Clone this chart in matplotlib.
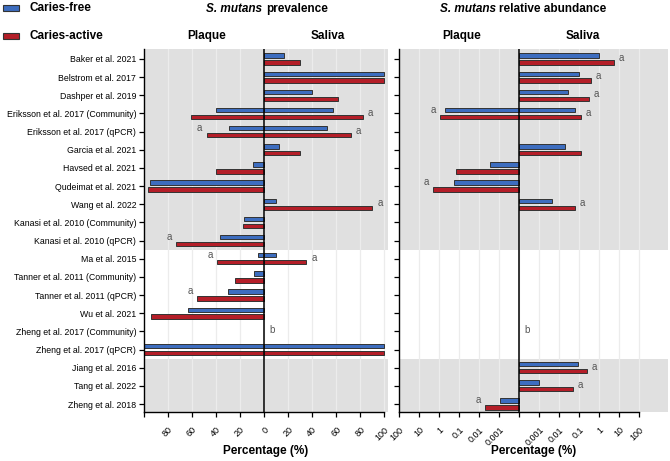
import numpy as np
import matplotlib.pyplot as plt

plt.rcParams['font.family'] = ['Liberation Sans', 'DejaVu Sans']

nan = np.nan
studies = ["Baker et al. 2021", "Belstrom et al. 2017", "Dashper et al. 2019",
           "Eriksson et al. 2017 (Community)", "Eriksson et al. 2017 (qPCR)",
           "Garcia et al. 2021", "Havsed et al. 2021", "Qudeimat et al. 2021",
           "Wang et al. 2022", "Kanasi et al. 2010 (Community)",
           "Kanasi et al. 2010 (qPCR)", "Ma et al. 2015",
           "Tanner et al. 2011 (Community)", "Tanner et al. 2011 (qPCR)",
           "Wu et al. 2021", "Zheng et al. 2017 (Community)",
           "Zheng et al. 2017 (qPCR)", "Jiang et al. 2016", "Tang et al. 2022",
           "Zheng et al. 2018"]

# S. mutans prevalence (%)
prev_plaque_free = [nan, nan, nan, 40.5, 29.5, nan, 9.5, 95, nan, 16.5, 36.5,
                    5, 8.5, 30.5, 63, nan, 100, nan, nan, nan]
prev_plaque_active = [nan, nan, nan, 61, 48, nan, 40, 97, nan, 17.5, 73.5,
                      39.5, 24.5, 55.5, 94.5, nan, 100, nan, nan, nan]
prev_saliva_free = [16.5, 100, 40, 57, 52, 12, nan, nan, 9.5, nan, nan,
                    9.5, nan, nan, nan, nan, 100, nan, nan, nan]
prev_saliva_active = [30, 100, 61, 82, 72, 30, nan, nan, 90, nan, nan,
                      35, nan, nan, nan, nan, 100, nan, nan, nan]

# S. mutans relative abundance (%)
abund_plaque_free = [nan, nan, nan, 0.5, nan, nan, 0.0028, 0.18, nan, nan, nan,
                     nan, nan, nan, nan, nan, nan, nan, nan, 0.0009]
abund_plaque_active = [nan, nan, nan, 0.93, nan, nan, 0.15, 2.0, nan, nan, nan,
                       nan, nan, nan, nan, nan, nan, nan, nan, 0.005]
abund_saliva_free = [1.0, 0.1, 0.028, 0.063, nan, 0.019, nan, nan, 0.0042, nan,
                     nan, nan, nan, nan, nan, nan, nan, 0.089, 0.001, nan]
abund_saliva_active = [5.4, 0.37, 0.29, 0.117, nan, 0.126, nan, nan, 0.063, nan,
                       nan, nan, nan, nan, nan, nan, nan, 0.25, 0.05, nan]

# significance letters
prev_plaque_note = ["", "", "", "", "a", "", "", "", "", "", "a",
                    "a", "", "a", "", "", "", "", "", ""]
prev_saliva_note = ["", "", "", "a", "a", "", "", "", "a", "", "",
                    "a", "", "", "", "b", "", "", "", ""]
abund_plaque_note = ["", "", "", "a", "", "", "", "a", "", "", "",
                     "", "", "", "", "", "", "", "", "a"]
abund_saliva_note = ["a", "a", "a", "a", "", "", "", "", "a", "", "",
                     "", "", "", "", "b", "", "a", "a", ""]

prev_ticks = [-100, -80, -60, -40, -20, 0, 20, 40, 60, 80, 100]
prev_ticklabels = ["", "80", "60", "40", "20", "0", "20", "40", "60", "80", "100"]
abund_ticks = [-6, -5, -4, -3, -2, -1, 0, 1, 2, 3, 4, 5, 6]
abund_ticklabels = ["100", "10", "1", "0.1", "0.01", "0.001", "",
                    "0.001", "0.01", "0.1", "1", "10", "100"]

blue = "#3d6dbf"
red = "#b41e28"
edge = "#333333"
grey = "#e0e0e0"

y = np.arange(len(studies))
off = 0.19
bh = 0.24


def logpos(v):
    return np.log10(np.array(v, dtype=float)) + 4


fig = plt.figure(figsize=(6.7, 4.61), dpi=100)
W, H = 670, 461
ax1 = fig.add_axes([144 / W, 1 - 412 / H, 244 / W, 363 / H])
ax2 = fig.add_axes([399 / W, 1 - 412 / H, 269 / W, 363 / H])

panels = [
    (ax1, -np.array(prev_plaque_free), -np.array(prev_plaque_active),
     np.array(prev_saliva_free), np.array(prev_saliva_active),
     prev_plaque_note, prev_saliva_note, (-100, 103), prev_ticks, prev_ticklabels),
    (ax2, -logpos(abund_plaque_free), -logpos(abund_plaque_active),
     logpos(abund_saliva_free), logpos(abund_saliva_active),
     abund_plaque_note, abund_saliva_note, (-6, 7.43), abund_ticks, abund_ticklabels),
]

for ax, pf, pa, sf, sa, pnote, snote, xl, ticks, tlabels in panels:
    ax.set_xlim(*xl)
    ax.set_ylim(19.44, -0.55)
    ax.axhspan(-0.55, 10.5, color=grey, zorder=0, lw=0)
    ax.axhspan(16.5, 19.44, color=grey, zorder=0, lw=0)
    for t in ticks[1:]:
        ax.axvline(t, color="#ececec", lw=0.9, zorder=0.5)
    for vals, dy, c in [(pf, -off, blue), (pa, off, red), (sf, -off, blue), (sa, off, red)]:
        ax.barh(y + dy, vals, height=bh, color=c, edgecolor=edge, lw=0.7, zorder=2)
    ax.axvline(0, color="black", lw=1.1, zorder=3)
    for i in range(len(studies)):
        if pnote[i]:
            end = np.nanmin([pf[i], pa[i]])
            ax.annotate(pnote[i], (end, i - 0.2), xytext=(-3, 0),
                        textcoords="offset points", ha="right", va="center",
                        fontsize=7, color="#555555")
        if snote[i]:
            end = np.nanmax([sf[i], sa[i]]) if not np.all(np.isnan([sf[i], sa[i]])) else 0
            ax.annotate(snote[i], (end, i - 0.05), xytext=(3.5, 0),
                        textcoords="offset points", ha="left", va="center",
                        fontsize=7, color="#555555")
    for s in ["top", "right"]:
        ax.spines[s].set_visible(False)
    ax.spines["bottom"].set_bounds(ticks[0], ticks[-1])
    ax.spines["left"].set_linewidth(1.0)
    ax.spines["bottom"].set_linewidth(1.0)
    ax.set_xticks(ticks)
    ax.set_xticklabels(tlabels, rotation=45, ha="right", rotation_mode="anchor",
                       fontsize=6.5)
    ax.set_yticks(y)
    ax.tick_params(axis="both", direction="out", length=3.5, width=0.9, pad=2)
    ax.tick_params(axis="x", pad=6)

ax1.set_yticklabels(studies, fontsize=6.3)
ax2.set_yticklabels([])

# legend
for yy, c, lab in [(8, blue, "Caries-free"), (36, red, "Caries-active")]:
    fig.patches.append(plt.Rectangle((3 / W, 1 - (yy + 3) / H), 16 / W, 6 / H,
                                     transform=fig.transFigure, facecolor=c,
                                     edgecolor=edge, lw=0.8))
    fig.text(30 / W, 1 - yy / H, lab, fontsize=8.5, fontweight="bold", va="center")

# headers
for xp, lab in [(207, "Plaque"), (328, "Saliva"), (462, "Plaque"), (583, "Saliva")]:
    fig.text(xp / W, 1 - 36 / H, lab, fontsize=8.5, fontweight="bold",
             ha="center", va="center")

fig.canvas.draw()
renderer = fig.canvas.get_renderer()
for xc, rest in [(267, "prevalence"), (523, "relative abundance")]:
    t1 = fig.text(0, 1 - 9 / H, "S. mutans", fontsize=8.5, fontweight="bold",
                  style="italic", va="center")
    t2 = fig.text(0, 1 - 9 / H, rest, fontsize=8.5, fontweight="bold", va="center")
    w1 = t1.get_window_extent(renderer).width
    w2 = t2.get_window_extent(renderer).width
    gap = 3.5
    x0 = xc - (w1 + gap + w2) / 2
    t1.set_x(x0 / W)
    t2.set_x((x0 + w1 + gap) / W)

for ax in [ax1, ax2]:
    bb = ax.get_position()
    fig.text((bb.x0 + bb.x1) / 2, 1 - 451 / H, "Percentage (%)", fontsize=8.5,
             fontweight="bold", ha="center", va="center")

fig.savefig("out.png", dpi=100)
